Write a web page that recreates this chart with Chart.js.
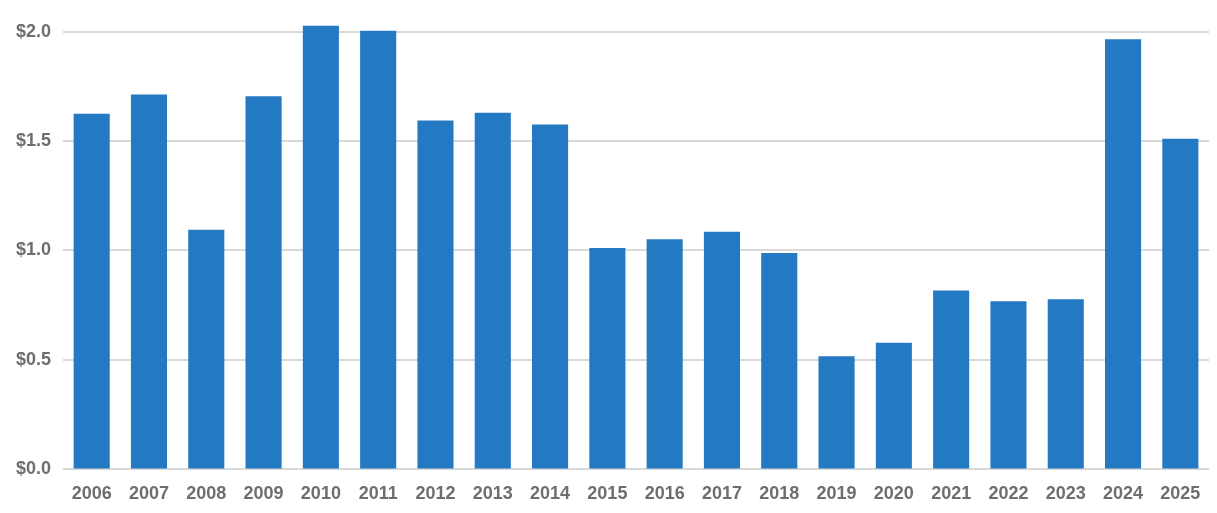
<!DOCTYPE html>
<html>
<head>
<meta charset="utf-8">
<script src="https://cdn.jsdelivr.net/npm/chart.js@4"></script>
<style>
html, body { margin: 0; padding: 0; background: #fff; }
#wrap { width: 1217px; height: 513px; }
</style>
</head>
<body>
<div id="wrap"><canvas id="c" width="1217" height="513"></canvas></div>
<script>
const years = ["2006", "2007", "2008", "2009", "2010", "2011", "2012", "2013", "2014", "2015",
               "2016", "2017", "2018", "2019", "2020", "2021", "2022", "2023", "2024", "2025"];
const values = [1.625, 1.713, 1.095, 1.704, 2.026, 2.004, 1.594, 1.629, 1.576, 1.011,
                1.051, 1.086, 0.989, 0.517, 0.578, 0.817, 0.768, 0.777, 1.965, 1.510];
const yTicks = [0, 0.5, 1.0, 1.5, 2.0];

const chart = new Chart(document.getElementById("c"), {
    type: "bar",
    data: {
        labels: years,
        datasets: [{
            data: values,
            backgroundColor: "#2479c3",
            categoryPercentage: 0.63,
            barPercentage: 1.0
        }]
    },
    options: {
        responsive: false,
        animation: false,
        layout: {padding: {top: 12, right: 8, left: 4, bottom: 2}},
        plugins: {legend: {display: false}, tooltip: {enabled: false}},
        scales: {
            x: {
                grid: {display: false},
                border: {display: false},
                ticks: {color: "#6e6e6e", font: {family: "Arial, Liberation Sans", size: 18, weight: "bold"}, maxRotation: 0, padding: 6}
            },
            y: {
                min: 0,
                max: 2.04,
                afterBuildTicks: axis => { axis.ticks = yTicks.map(v => ({value: v})); },
                grid: {color: "#d9d9d9", lineWidth: 2, drawTicks: false},
                border: {display: false},
                ticks: {
                    color: "#6e6e6e",
                    font: {family: "Arial, Liberation Sans", size: 18, weight: "bold"},
                    padding: 12,
                    callback: v => "$" + v.toFixed(1)
                }
            }
        }
    }
});
</script>
</body>
</html>
